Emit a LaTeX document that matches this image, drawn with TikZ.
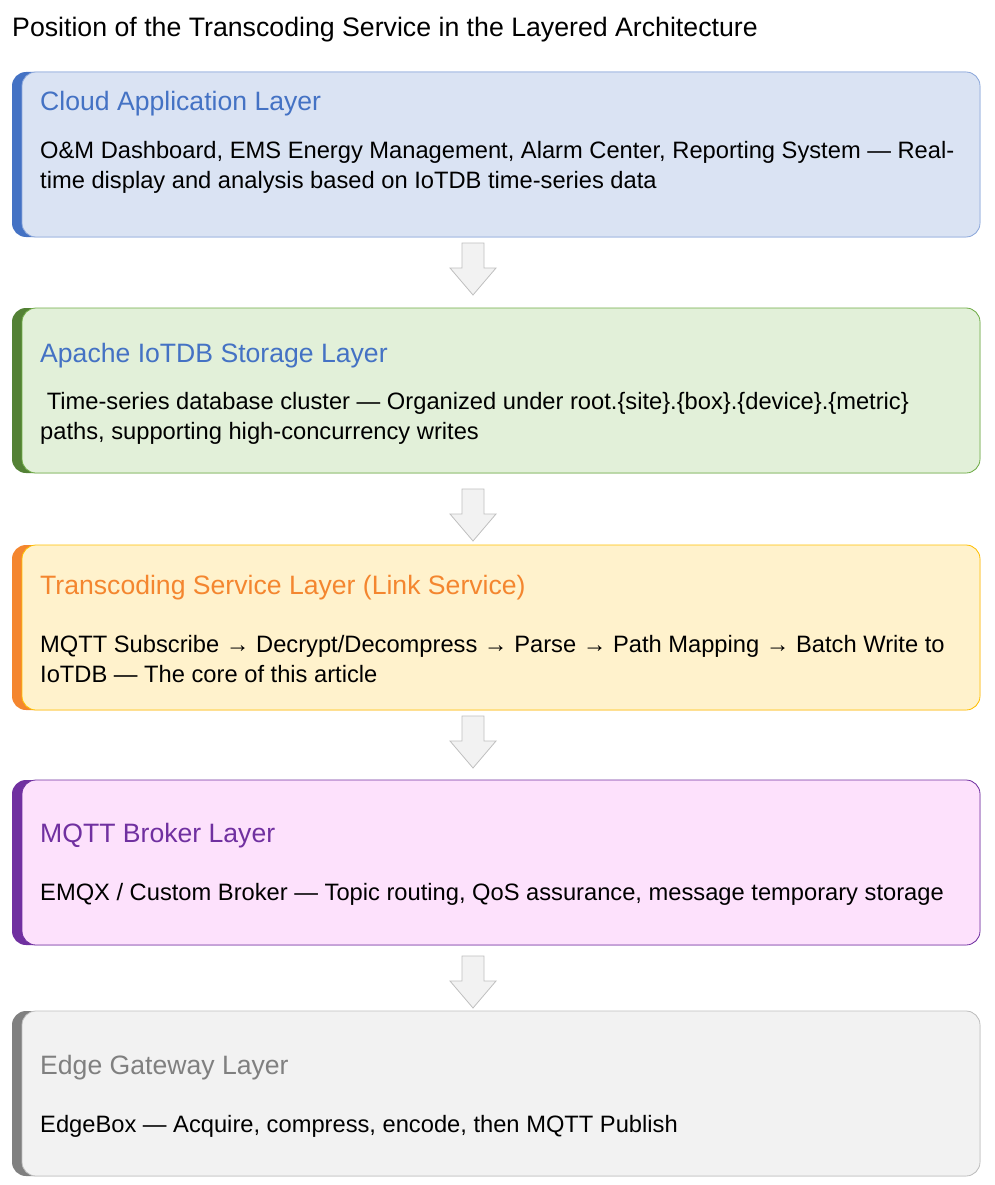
\documentclass[tikz,border=0pt]{standalone}
\usepackage{fontspec}
\setmainfont{Liberation Sans}
\begin{document}
\begin{tikzpicture}[x=1pt,y=-1pt,
  body/.style={anchor=west,font=\fontsize{23.7}{30}\selectfont,align=left,inner sep=0pt},
  ttl/.style={anchor=west,font=\fontsize{26.6}{30}\selectfont,inner sep=0pt},
  blk/.style={rounded corners=14pt,line width=0.8pt},
  darr/.style={fill=gray!10,draw=gray!50,line width=0.8pt}]
\useasboundingbox (0,0) rectangle (995,1185);
\node[ttl,font=\fontsize{26.7}{28}\selectfont] (title) at (12,30) {Position of the Transcoding Service in the Layered Architecture};
\def\layer#1#2#3#4#5{%
  \fill[#3,rounded corners=14pt] (12,#1) rectangle (980,#1+165);
  \draw[blk,fill=#4,draw=#5] (22,#1) rectangle (980,#1+165);}
\definecolor{cb}{HTML}{4472C4}\definecolor{cbf}{HTML}{DAE3F3}\definecolor{cbd}{HTML}{8EA9DB}
\definecolor{cg}{HTML}{538135}\definecolor{cgf}{HTML}{E2F0D9}\definecolor{cgd}{HTML}{70AD47}
\definecolor{co}{HTML}{F4862F}\definecolor{cof}{HTML}{FFF2CC}\definecolor{cod}{HTML}{FFC000}
\definecolor{cp}{HTML}{7030A0}\definecolor{cpf}{HTML}{FDE1FC}\definecolor{cpd}{HTML}{7030A0}
\definecolor{cy}{HTML}{808080}\definecolor{cyf}{HTML}{F2F2F2}\definecolor{cyd}{HTML}{BFBFBF}
\layer{72}{}{cb}{cbf}{cbd}
\layer{308}{}{cg}{cgf}{cgd}
\layer{545}{}{co}{cof}{cod}
\layer{780}{}{cp}{cpf}{cpd}
\layer{1011}{}{cy}{cyf}{cyd}
\node[ttl,text=cb] (t1) at (40,104) {Cloud Application Layer};
\node[body] (b1) at (40,167) {O\&M Dashboard, EMS Energy Management, Alarm Center, Reporting System — Real-\\time display and analysis based on IoTDB time-series data};
\node[ttl,text=cb] (t2) at (40,356) {Apache IoTDB Storage Layer};
\node[body] (b2) at (40,418.5) {\ Time-series database cluster — Organized under root.\{site\}.\{box\}.\{device\}.\{metric\}\\paths, supporting high-concurrency writes};
\node[ttl,text=co] (t3) at (40,588) {Transcoding Service Layer (Link Service)};
\node[body] (b3) at (40,659.5) {MQTT Subscribe → Decrypt/Decompress → Parse → Path Mapping → Batch Write to\\IoTDB — The core of this article};
\node[ttl,text=cp] (t4) at (40,836) {MQTT Broker Layer};
\node[body] (b4) at (40,894) {EMQX / Custom Broker — Topic routing, QoS assurance, message temporary storage};
\node[ttl,text=cy] (t5) at (40,1068) {Edge Gateway Layer};
\node[body] (b5) at (40,1126) {EdgeBox — Acquire, compress, encode, then MQTT Publish};
\foreach \y in {243,489,716,956}{
  \draw[darr] (462,\y) -- (484,\y) -- (484,\y+25) -- (496,\y+25) -- (473,\y+52) -- (450,\y+25) -- (462,\y+25) -- cycle;}
\end{tikzpicture}
\end{document}
